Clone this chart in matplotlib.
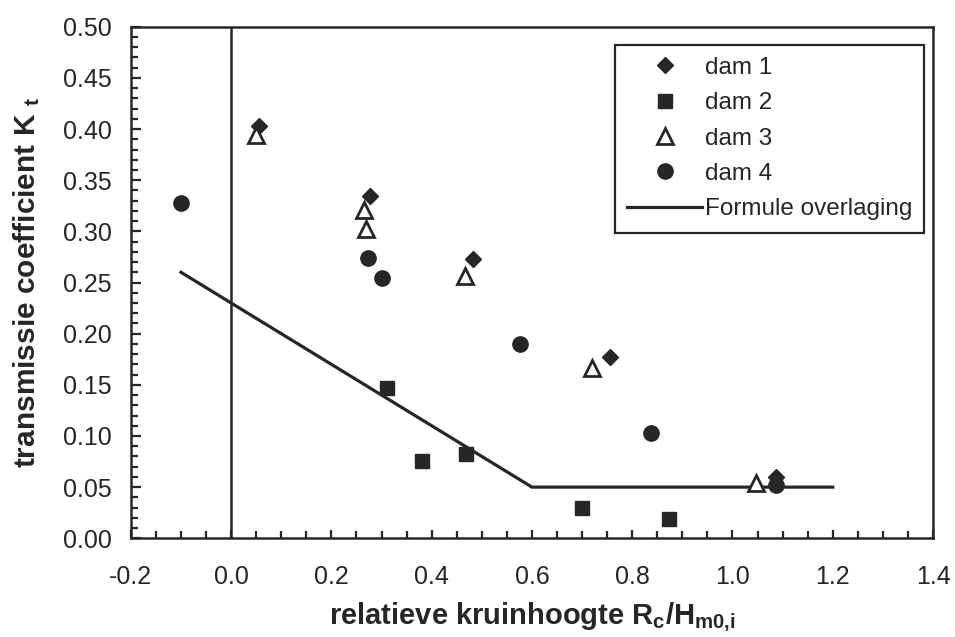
import matplotlib
matplotlib.use("Agg")
import matplotlib.pyplot as plt
from matplotlib.ticker import MultipleLocator

plt.rcParams['font.family'] = ['Liberation Sans', 'DejaVu Sans']
plt.rcParams['mathtext.fontset'] = 'custom'
plt.rcParams['mathtext.bf'] = 'Liberation Sans:bold'
plt.rcParams['mathtext.rm'] = 'Liberation Sans:bold'
plt.rcParams['mathtext.default'] = 'bf'

ink = '#262626'

# data
dam1_x = [0.055, 0.278, 0.483, 0.755, 1.087]
dam1_y = [0.403, 0.335, 0.273, 0.177, 0.060]

dam2_x = [0.310, 0.381, 0.469, 0.700, 0.873]
dam2_y = [0.147, 0.076, 0.082, 0.030, 0.019]

dam3_x = [0.050, 0.266, 0.270, 0.467, 0.720, 1.047]
dam3_y = [0.394, 0.321, 0.302, 0.256, 0.166, 0.054]

dam4_x = [-0.100, 0.274, 0.300, 0.576, 0.837, 1.087]
dam4_y = [0.328, 0.274, 0.254, 0.190, 0.103, 0.052]

formule_x = [-0.1, 0.6, 1.2]
formule_y = [0.26, 0.05, 0.05]

fig = plt.figure(figsize=(9.55, 6.37), dpi=100)
ax = fig.add_axes([0.137, 0.155, 0.840, 0.803])

# vertical line at x = 0
ax.axvline(0.0, color=ink, linewidth=1.8, zorder=1)

ax.plot(dam1_x, dam1_y, linestyle='none', marker='D', markersize=8.5,
        color=ink, label='dam 1', zorder=3)
ax.plot(dam2_x, dam2_y, linestyle='none', marker='s', markersize=10.5,
        color=ink, label='dam 2', zorder=3)
ax.plot(dam3_x, dam3_y, linestyle='none', marker='^', markersize=11,
        markerfacecolor='white', markeredgecolor=ink, markeredgewidth=2,
        label='dam 3', zorder=3)
ax.plot(dam4_x, dam4_y, linestyle='none', marker='o', markersize=11,
        color=ink, label='dam 4', zorder=3)
ax.plot(formule_x, formule_y, color=ink, linewidth=2.3,
        label='Formule overlaging', zorder=2)

ax.set_xlim(-0.2, 1.4)
ax.set_ylim(0.0, 0.5)
ax.xaxis.set_major_locator(MultipleLocator(0.2))
ax.xaxis.set_minor_locator(MultipleLocator(0.05))
ax.yaxis.set_major_locator(MultipleLocator(0.05))
ax.yaxis.set_minor_locator(MultipleLocator(0.01))
ax.xaxis.set_major_formatter(plt.FormatStrFormatter('%.1f'))
ax.yaxis.set_major_formatter(plt.FormatStrFormatter('%.2f'))

ax.tick_params(which='both', direction='in', top=False, right=False,
               color=ink, labelcolor=ink, labelsize=18)
ax.tick_params(axis='y', which='major', length=7.5, width=1.6, pad=14)
ax.tick_params(axis='y', which='minor', length=5, width=1.6)
ax.tick_params(axis='x', which='major', length=6, width=1.6, pad=19)
ax.tick_params(axis='x', which='minor', length=5, width=1.6)

for sp in ax.spines.values():
    sp.set_color(ink)
    sp.set_linewidth(1.8)

ax.set_xlabel('relatieve kruinhoogte R$_{c}$/H$_{m0{,}i}$', fontsize=21,
              fontweight='bold', color=ink, labelpad=9)
ax.set_ylabel('transmissie coefficient K $_{t}$', fontsize=21.5,
              fontweight='bold', color=ink, labelpad=15)

leg = ax.legend(loc='upper right', bbox_to_anchor=(0.989, 0.965),
                fontsize=17.5, numpoints=1, fancybox=False, framealpha=1,
                edgecolor=ink, handlelength=3.1, handletextpad=0.1,
                labelspacing=0.55, borderpad=0.5, borderaxespad=0)
leg.get_frame().set_linewidth(1.6)
for t in leg.get_texts():
    t.set_color(ink)

fig.savefig('out.png', dpi=100)
